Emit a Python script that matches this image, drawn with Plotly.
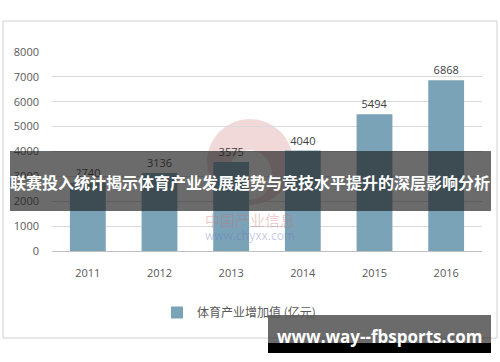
import plotly.graph_objects as go

years = ["2011", "2012", "2013", "2014", "2015", "2016"]
values = [2740, 3136, 3575, 4040, 5494, 6868]
y_ticks = [0, 1000, 2000, 3000, 4000, 5000, 6000, 7000, 8000]
series_name = "体育产业增加值 (亿元)"
title_text = "联赛投入统计揭示体育产业发展趋势与竞技水平提升的深层影响分析"
site_text = "www.way--fbsports.com"

W, H = 500, 362
L, R, T, B = 52, 482, 52, 251

def px(x):
    return (x - L) / (R - L)

def py(y):
    return (B - y) / (B - T)

fig = go.Figure()
fig.add_trace(go.Bar(
    x=years, y=values, name=series_name,
    marker=dict(color="#7aa3b8", line=dict(width=0)),
    text=[str(v) for v in values], textposition="outside",
    textfont=dict(family="Open Sans, Noto Sans", size=11, color="#404040"),
    cliponaxis=False, showlegend=True,
))

shapes = []
# outer frame
shapes.append(dict(type="rect", xref="paper", yref="paper",
                   x0=px(3), x1=px(497), y0=py(338), y1=py(21),
                   line=dict(color="#d0d0d0", width=1), fillcolor="rgba(0,0,0,0)", layer="below"))
# watermark circle
shapes.append(dict(type="circle", xref="paper", yref="paper",
                   x0=px(207), x1=px(293), y0=py(205), y1=py(119),
                   line=dict(width=0), fillcolor="rgba(205,120,120,0.28)", layer="below"))
shapes.append(dict(type="circle", xref="paper", yref="paper",
                   x0=px(228), x1=px(272), y0=py(200), y1=py(150),
                   line=dict(width=0), fillcolor="rgba(255,255,255,0.9)", layer="below"))
# dark title band
shapes.append(dict(type="rect", xref="paper", yref="paper",
                   x0=px(10), x1=px(491), y0=py(211), y1=py(151),
                   line=dict(width=0), fillcolor="rgba(30,30,30,0.66)", layer="above"))
# site box
shapes.append(dict(type="rect", xref="paper", yref="paper",
                   x0=px(268), x1=px(491), y0=py(343), y1=py(315),
                   line=dict(width=0), fillcolor="rgba(30,30,30,0.66)", layer="above"))
shapes.append(dict(type="rect", xref="paper", yref="paper",
                   x0=px(268), x1=px(491), y0=py(353), y1=py(343),
                   line=dict(width=0), fillcolor="#000000", layer="above"))

def ann(text, x, y, font):
    return dict(text=text, x=px(x), y=py(y), xref="paper", yref="paper",
                xanchor="center", yanchor="middle", showarrow=False, font=font)

annotations = [
    ann("中国产业信息", 250, 219, dict(family="Noto Sans CJK SC", size=15, color="rgba(205,110,110,0.35)")),
    ann("www.chyxx.com", 250, 235, dict(family="Open Sans, Noto Sans", size=12, color="rgba(110,120,190,0.4)")),
    ann("<b>" + title_text + "</b>", 250, 182, dict(family="Noto Sans CJK SC", size=16, color="#ffffff")),
    ann("<b>" + site_text + "</b>", 379, 336, dict(family="Open Sans", size=17, color="#ffffff")),
]

fig.update_layout(
    width=W, height=H,
    margin=dict(l=L, r=W - R, t=T, b=H - B, pad=0),
    paper_bgcolor="#ffffff", plot_bgcolor="#ffffff",
    bargap=0.5,
    shapes=shapes, annotations=annotations,
    showlegend=True,
    legend=dict(orientation="h", x=px(157), y=py(298), xanchor="left", yanchor="top",
                font=dict(family="Noto Sans CJK SC", size=12, color="#595959"),
                bgcolor="rgba(0,0,0,0)"),
    xaxis=dict(type="category", showgrid=False, showline=False, ticks="",
               tickfont=dict(family="Open Sans, Noto Sans", size=11, color="#595959"),
               ticklabelstandoff=14, fixedrange=True),
    yaxis=dict(range=[0, 8000], tickvals=y_ticks, showgrid=True, gridcolor="#d9d9d9",
               gridwidth=1, zeroline=True, zerolinecolor="#bfbfbf", zerolinewidth=1,
               showline=False, ticks="",
               tickfont=dict(family="Open Sans, Noto Sans", size=11, color="#595959"),
               ticklabelstandoff=12, fixedrange=True),
)

fig.write_html("out.html")
